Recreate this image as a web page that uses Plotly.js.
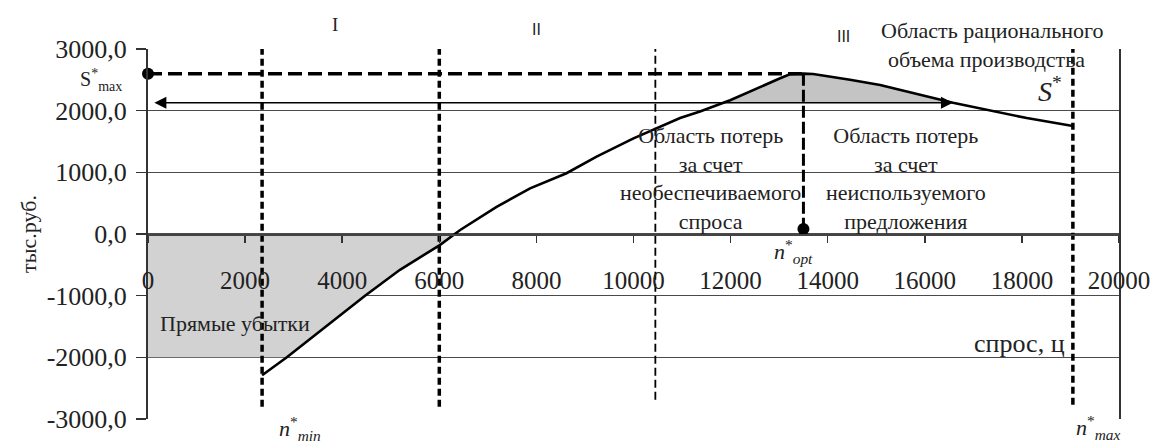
<!DOCTYPE html>
<html>
<head>
<meta charset="utf-8">
<script src="https://cdn.plot.ly/plotly-3.0.1.min.js"></script>
<style>html,body{margin:0;padding:0;background:#fff;}#chart{width:1153px;height:446px;}</style>
</head>
<body>
<div id="chart"></div>
<script>
// ---- data ----
const demandX = [2350, 2860, 4470, 5190, 6010, 6320, 6430, 7180, 7870, 8620, 9240, 10000, 10960, 11370, 11850, 11990, 13020, 13220, 13500, 13700, 14460, 15080, 16580, 17340, 18100, 19050];
const profitY = [-2290, -2000, -1000, -580, -180, 0, 65, 440, 740, 985, 1255, 1550, 1880, 1985, 2130, 2170, 2525, 2590, 2600, 2595, 2500, 2415, 2130, 2010, 1880, 1750];

const boundaryX = [2350, 6000, 10450, 19050];      // n*min, I|II, II|III, n*max
const boundaryTop = [3200, 3200, 3280, 3230];
const boundaryBottom = [-2820, -2820, -2740, -2780];

const nOpt = 13500;          // optimal demand
const sMax = 2600;           // S*max
const nOptDotY = 80;
const lossLevel = -2000;     // bottom of "direct losses" area
const arrowLevel = 2130;     // level of the S* arrow
const arrowStartX = 100;
const arrowEndX = 16580;

const xTickVals = [0, 2000, 4000, 6000, 8000, 10000, 12000, 14000, 16000, 18000, 20000];
const xTickText = ['0', '2000', '4000', '6000', '8000', '10000', '12000', '14000', '16000', '18000', '20000'];
const yTickVals = [-3000, -2000, -1000, 0, 1000, 2000, 3000];
const yTickText = ['-3000,0', '-2000,0', '-1000,0', '0,0', '1000,0', '2000,0', '3000,0'];

// ---- derived polygons ----
const lossX = [0], lossY = [lossLevel];
demandX.forEach((x, i) => { if (profitY[i] >= lossLevel && profitY[i] <= 0) { lossX.push(x); lossY.push(profitY[i]); } });
lossX.push(0); lossY.push(0);

const gainX = [], gainY = [];
demandX.forEach((x, i) => { if (profitY[i] >= arrowLevel) { gainX.push(x); gainY.push(profitY[i]); } });

const SERIF = '"Liberation Serif", "Times New Roman", serif';
const traces = [];
traces.push({x: lossX, y: lossY, mode: 'lines', fill: 'toself', fillcolor: '#d2d2d2', line: {width: 0}, hoverinfo: 'skip', showlegend: false});
traces.push({x: gainX, y: gainY, mode: 'lines', fill: 'toself', fillcolor: '#c4c4c4', line: {width: 0}, hoverinfo: 'skip', showlegend: false});

const bStyles = [
  {width: 3.5, dash: '7px,4px'},
  {width: 3.5, dash: '7px,4px'},
  {width: 1.8, dash: '8px,4px'},
  {width: 3.5, dash: '7px,4px'}
];
boundaryX.forEach((bx, i) => {
  traces.push({x: [bx, bx], y: [boundaryTop[i], boundaryBottom[i]], mode: 'lines', cliponaxis: false,
    line: {color: '#000', width: bStyles[i].width, dash: bStyles[i].dash}, hoverinfo: 'skip', showlegend: false});
});
// S*max horizontal dashed line and n*opt vertical
traces.push({x: [0, nOpt], y: [sMax, sMax], mode: 'lines', cliponaxis: false,
  line: {color: '#000', width: 3.5, dash: '14px,6px'}, hoverinfo: 'skip', showlegend: false});
traces.push({x: [nOpt, nOpt], y: [sMax, nOptDotY], mode: 'lines', cliponaxis: false,
  line: {color: '#000', width: 3, dash: '12px,4px'}, hoverinfo: 'skip', showlegend: false});
// profit curve
traces.push({x: demandX, y: profitY, mode: 'lines', line: {color: '#000', width: 2.6}, hoverinfo: 'skip', showlegend: false});
// dots
traces.push({x: [0, nOpt], y: [sMax, nOptDotY], mode: 'markers', cliponaxis: false,
  marker: {color: '#000', size: 12}, hoverinfo: 'skip', showlegend: false});

const ann = (o) => Object.assign({showarrow: false, xanchor: 'center', yanchor: 'middle', font: {family: SERIF, size: 22, color: '#222'}}, o);
const annotations = [
  ann({x: 3850, y: 1.065, yref: 'paper', text: 'I', font: {family: SERIF, size: 19, color: '#222'}}),
  ann({x: 8010, y: 1.051, yref: 'paper', text: 'II', font: {family: '"DejaVu Sans", sans-serif', size: 15, color: '#222'}}),
  ann({x: 14320, y: 1.032, yref: 'paper', text: 'III', font: {family: '"DejaVu Sans", sans-serif', size: 15, color: '#222'}}),
  ann({x: 17400, y: 1.049, yref: 'paper', text: 'Область рационального'}),
  ann({x: 17280, y: 2822, text: 'объема производства'}),
  ann({x: 18580, y: 2336, text: '<i>S</i><sup>*</sup>', font: {family: SERIF, size: 28, color: '#222'}}),
  ann({x: 11580, y: 892, text: 'Область потерь<br>за счет<br>необеспечиваемого<br>спроса'}),
  ann({x: 15610, y: 892, text: 'Область потерь<br>за счет<br>неиспользуемого<br>предложения'}),
  ann({x: 1790, y: -1444, text: 'Прямые убытки'}),
  ann({x: 17960, y: -1768, text: 'спрос, ц', font: {family: SERIF, size: 26, color: '#222'}}),
  ann({x: -0.0247, xref: 'paper', xanchor: 'right', y: 2500, text: 'S<sup>*</sup><sub>max</sub>', font: {family: SERIF, size: 20, color: '#222'}}),
  ann({x: 3130, y: -0.026, yref: 'paper', text: '<i>n</i><sup>*</sup><sub><i>min</i></sub>', font: {family: SERIF, size: 22, color: '#222'}}),
  ann({x: 13290, y: -280, text: '<i>n</i><sup>*</sup><sub><i>opt</i></sub>', font: {family: SERIF, size: 22, color: '#222'}}),
  ann({x: 19570, y: -0.022, yref: 'paper', text: '<i>n</i><sup>*</sup><sub><i>max</i></sub>', font: {family: SERIF, size: 22, color: '#222'}}),
  // double-headed S* arrow
  {x: arrowEndX, y: arrowLevel, ax: arrowStartX, ay: arrowLevel, axref: 'x', ayref: 'y', text: '',
   showarrow: true, arrowside: 'end+start', arrowhead: 2, arrowsize: 1.6, arrowwidth: 1.5, arrowcolor: '#000', standoff: 0, startstandoff: 0}
];

const layout = {
  width: 1153, height: 446,
  margin: {l: 148, r: 34, t: 49, b: 27, pad: 0},
  paper_bgcolor: '#fff', plot_bgcolor: '#fff',
  showlegend: false,
  font: {family: SERIF, color: '#222'},
  xaxis: {
    range: [0, 20000], anchor: 'free', position: 0.5,
    tickvals: xTickVals, ticktext: xTickText,
    ticks: 'outside', ticklen: 7, tickwidth: 1.5, tickcolor: '#333',
    ticklabelstandoff: 16,
    tickfont: {family: SERIF, size: 25, color: '#222'},
    showline: true, linecolor: '#444', linewidth: 1.5,
    showgrid: false, zeroline: false, fixedrange: true
  },
  yaxis: {
    range: [-3000, 3000],
    tickvals: yTickVals, ticktext: yTickText,
    ticks: 'outside', ticklen: 10, tickwidth: 1.5, tickcolor: '#333',
    ticklabelstandoff: 4,
    tickfont: {family: SERIF, size: 26, color: '#222'},
    showline: true, mirror: true, linecolor: '#333', linewidth: 2,
    showgrid: true, gridcolor: '#4a4a4a', gridwidth: 1.5, zeroline: false,
    title: {text: 'тыс.руб.', font: {family: SERIF, size: 22, color: '#222'}, standoff: 4},
    automargin: false, fixedrange: true
  },
  annotations: annotations
};

Plotly.newPlot('chart', traces, layout, {staticPlot: true, displayModeBar: false});
</script>
</body>
</html>
